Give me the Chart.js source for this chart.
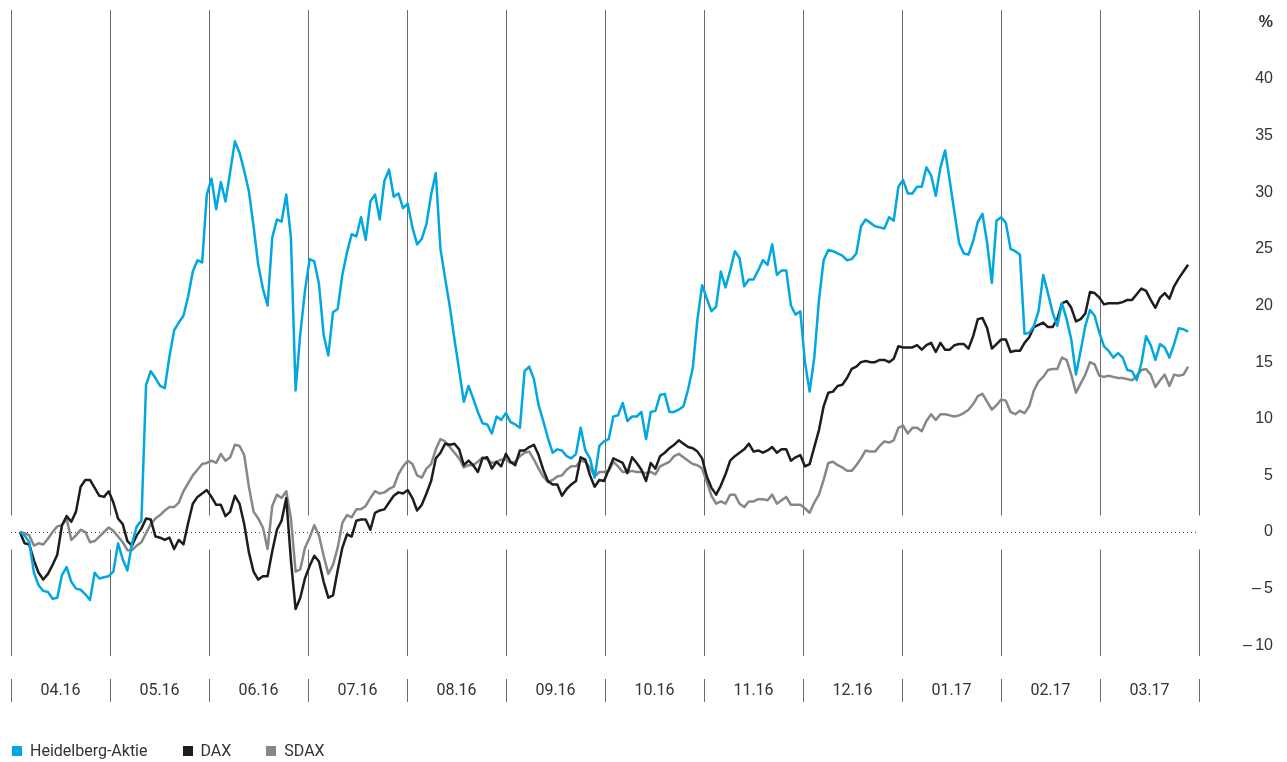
<!DOCTYPE html>
<html>
<head>
<meta charset="utf-8">
<script src="https://cdn.jsdelivr.net/npm/chart.js@4.4.1/dist/chart.umd.min.js"></script>
<style>
  body { margin: 0; background: #fff; }
  #wrap { position: relative; width: 1287px; height: 762px; }
  #legend { position: absolute; left: 12px; top: 741px; display: flex; font: 16px Roboto, sans-serif; color: #333; line-height: 20px; }
  #legend span.item { display: flex; align-items: center; margin-right: 35px; }
  #legend i { display: inline-block; width: 10px; height: 10px; margin-right: 8px; }
</style>
</head>
<body>
<div id="wrap">
  <canvas id="perfChart" width="1287" height="762"></canvas>
  <div id="legend"></div>
</div>
<script>
// month columns, April 2016 to March 2017
const months = ['04.16', '05.16', '06.16', '07.16', '08.16', '09.16', '10.16', '11.16', '12.16', '01.17', '02.17', '03.17'];

// y axis ticks in %, the top one carries the unit
const yTicks = [-10, -5, 0, 5, 10, 15, 20, 25, 30, 35, 40, 45];

const seriesNames = ['Heidelberg-Aktie', 'DAX', 'SDAX'];
const seriesColors = ['#00a7e1', '#1d1d1b', '#878787'];

// change in % since 31.03.2016, one value per trading day
const heidelberg = [
  0, -0.3, -0.9, -3.6, -4.7, -5.2, -5.3, -5.9, -5.8, -3.8,
  -3.1, -4.4, -5.0, -5.1, -5.5, -6.0, -3.6, -4.1, -4.0, -3.9,
  -3.5, -1.0, -2.4, -3.4, -1.0, 0.5, 1.0, 13.0, 14.2, 13.6,
  12.9, 12.7, 15.5, 17.8, 18.5, 19.1, 20.8, 23.0, 24.0, 23.8,
  29.8, 31.2, 28.5, 30.9, 29.2, 31.8, 34.5, 33.5, 31.9, 30.1,
  27.0, 23.6, 21.5, 20.0, 26.0, 27.6, 27.4, 29.8, 26.0, 12.5,
  17.5, 21.3, 24.1, 23.9, 21.9, 17.4, 15.6, 19.4, 19.7, 22.7,
  24.7, 26.3, 26.1, 27.8, 25.8, 29.2, 29.8, 27.6, 31.0, 32.0,
  29.6, 29.9, 28.6, 29.0, 26.9, 25.4, 25.9, 27.2, 29.8, 31.7,
  25.0, 22.4, 19.9, 17.0, 14.3, 11.5, 12.9, 11.8, 10.6, 9.6,
  9.5, 8.7, 10.2, 9.9, 10.5, 9.7, 9.5, 9.2, 14.2, 14.6,
  13.5, 11.2, 9.8, 8.3, 7.0, 7.3, 7.2, 6.7, 6.5, 6.9,
  9.2, 7.2, 6.5, 4.8, 7.6, 8.0, 8.2, 10.2, 10.3, 11.4,
  9.8, 10.2, 10.2, 10.6, 8.2, 10.6, 10.7, 12.1, 12.2, 10.6,
  10.6, 10.8, 11.1, 12.6, 14.5, 18.8, 21.8, 20.6, 19.5, 19.9,
  23.0, 21.6, 23.1, 24.8, 24.2, 21.7, 22.3, 22.3, 23.1, 24.0,
  23.6, 25.4, 22.7, 23.1, 23.1, 20.0, 19.2, 19.5, 15.0, 12.4,
  15.4, 20.5, 24.0, 24.9, 24.8, 24.6, 24.4, 24.0, 24.1, 24.6,
  27.0, 27.6, 27.3, 27.0, 26.9, 26.8, 27.8, 27.5, 30.5, 31.1,
  29.9, 29.9, 30.5, 30.5, 32.2, 31.5, 29.7, 32.2, 33.7, 31.0,
  28.2, 25.5, 24.6, 24.5, 25.7, 27.4, 28.1, 25.5, 22.0, 27.5,
  27.8, 27.3, 25.0, 24.8, 24.5, 17.5, 17.6, 18.2, 19.5, 22.7,
  21.1, 19.4, 18.2, 20.2, 18.8, 17.0, 13.9, 16.0, 18.2, 19.6,
  19.1, 17.6, 16.4, 16.0, 15.4, 15.8, 15.4, 14.3, 14.2, 13.4,
  14.9, 17.3, 16.5, 15.2, 16.6, 16.3, 15.4, 16.6, 18.0, 17.9, 17.7
];

const dax = [
  0, -1.0, -1.1, -2.5, -3.6, -4.2, -3.7, -2.9, -2.0, 0.6,
  1.4, 0.9, 1.8, 4.0, 4.6, 4.6, 3.9, 3.2, 3.1, 3.6,
  2.6, 1.2, 0.7, -0.8, -1.2, -0.3, 0.3, 1.2, 1.1, -0.4,
  -0.5, -0.7, -0.5, -1.5, -0.7, -1.1, 0.8, 2.5, 3.1, 3.4,
  3.7, 3.1, 2.4, 2.4, 1.4, 1.8, 3.2, 2.5, 0.7, -1.8,
  -3.5, -4.2, -3.9, -3.9, -1.7, 0.2, 1.0, 3.0, -2.5, -6.8,
  -5.8, -4.1, -3.0, -2.1, -2.6, -4.4, -5.8, -5.6, -3.4, -1.4,
  -0.2, -0.4, 1.0, 1.1, 1.1, 0.2, 1.7, 1.9, 2.0, 2.6,
  3.2, 3.5, 3.4, 3.7, 3.0, 1.9, 2.4, 3.4, 4.5, 6.5,
  7.0, 7.8, 7.7, 7.8, 7.3, 5.9, 6.3, 5.9, 5.3, 6.5,
  6.6, 5.6, 6.2, 5.8, 6.9, 6.2, 5.9, 7.2, 7.2, 7.5,
  7.7, 6.8, 5.5, 4.5, 4.2, 4.2, 3.2, 3.8, 4.2, 4.5,
  6.6, 6.4, 5.0, 4.0, 4.6, 4.5, 5.5, 6.5, 6.3, 6.1,
  5.2, 6.6, 6.1, 5.5, 4.5, 6.1, 5.6, 6.7, 7.0, 7.4,
  7.7, 8.1, 7.8, 7.5, 7.4, 7.1, 6.5, 4.9, 3.9, 3.3,
  4.1, 5.1, 6.3, 6.7, 7.0, 7.3, 7.8, 7.1, 7.2, 7.0,
  7.2, 7.5, 7.0, 7.3, 7.3, 6.3, 6.6, 6.8, 5.8, 6.0,
  7.5, 9.0, 11.1, 12.3, 12.4, 12.9, 13.0, 13.6, 14.4, 14.6,
  15.0, 15.1, 15.0, 15.0, 15.2, 15.2, 15.0, 15.3, 16.4, 16.3,
  16.3, 16.3, 16.5, 16.1, 16.5, 16.7, 15.9, 16.7, 16.1, 16.1,
  16.5, 16.6, 16.6, 16.2, 17.3, 18.8, 18.9, 18.0, 16.2, 16.6,
  17.0, 17.0, 15.9, 16.0, 16.0, 16.7, 17.2, 18.1, 18.3, 18.5,
  18.1, 18.1, 18.8, 20.2, 20.4, 19.8, 18.6, 18.8, 19.3, 21.2,
  21.1, 20.7, 20.1, 20.2, 20.2, 20.2, 20.3, 20.5, 20.5, 21.0,
  21.5, 21.3, 20.5, 19.8, 20.7, 21.1, 20.6, 21.7, 22.4, 23.0, 23.6
];

const sdax = [
  0, -0.1, -0.3, -1.2, -1.0, -1.1, -0.6, 0, 0.5, 0.6,
  1.2, -0.7, -0.3, 0.2, 0, -0.9, -0.8, -0.4, 0, 0.4,
  0.1, -0.4, -0.9, -1.6, -1.6, -1.2, -0.9, -0.1, 0.7, 1.2,
  1.5, 1.9, 2.2, 2.2, 2.6, 3.6, 4.3, 5.0, 5.5, 6.0,
  6.1, 6.3, 6.1, 6.9, 6.3, 6.6, 7.7, 7.6, 6.8, 4.0,
  1.8, 1.2, 0.4, -1.5, 2.3, 3.3, 3.0, 3.6, 1.2, -3.5,
  -3.3, -1.4, -0.5, 0.6, -0.3, -2.1, -3.7, -2.9, -1.4, 0.8,
  1.5, 1.3, 2.0, 2.0, 2.3, 3.0, 3.6, 3.4, 3.5, 3.8,
  4.0, 5.1, 5.8, 6.3, 6.0, 5.0, 4.8, 5.6, 6.0, 7.3,
  8.2, 8.0, 7.5, 7.0, 6.5, 5.7, 5.9, 5.9, 6.2, 6.6,
  6.4, 6.1, 6.2, 6.4, 6.4, 6.1, 6.2, 6.7, 7.0, 7.1,
  6.4, 5.6, 4.9, 4.4, 4.6, 4.9, 5.0, 5.5, 5.8, 5.8,
  6.3, 6.2, 5.7, 4.9, 5.3, 5.3, 5.4, 6.2, 5.8, 5.3,
  5.3, 5.4, 5.3, 5.3, 5.2, 5.3, 5.1, 5.8, 6.0, 6.2,
  6.7, 6.9, 6.6, 6.3, 6.0, 5.9, 5.6, 4.4, 3.2, 2.5,
  2.7, 2.5, 3.3, 3.3, 2.5, 2.2, 2.7, 2.7, 2.9, 2.9,
  2.8, 3.3, 2.5, 2.8, 3.1, 2.4, 2.4, 2.4, 2.1, 1.7,
  2.6, 3.3, 4.6, 6.1, 6.2, 5.9, 5.7, 5.4, 5.4, 5.9,
  6.5, 7.2, 7.1, 7.1, 7.6, 8.0, 7.9, 8.1, 9.2, 9.4,
  8.7, 9.2, 9.2, 8.9, 9.8, 10.4, 9.9, 10.4, 10.4, 10.3,
  10.2, 10.3, 10.5, 10.8, 11.3, 12.0, 12.2, 11.5, 10.8, 11.2,
  11.7, 11.6, 10.6, 10.4, 10.7, 10.5, 11.1, 12.5, 13.3, 13.7,
  14.3, 14.4, 14.4, 15.4, 15.2, 13.9, 12.3, 13.1, 13.9, 15.0,
  14.8, 13.8, 13.7, 13.8, 13.7, 13.6, 13.6, 13.5, 13.4, 13.8,
  14.3, 14.4, 13.9, 12.8, 13.4, 13.9, 12.9, 13.9, 13.8, 13.9, 14.6
];

// x is measured in months (0 = start of April 2016)
const firstDay = 0.09;
const dayStep = 11.8 / (heidelberg.length - 1);
const toPoints = arr => arr.map((v, i) => ({ x: firstDay + i * dayStep, y: v }));

const monthLines = {
  id: 'monthLines',
  beforeDatasetsDraw(chart) {
    const { ctx, chartArea: a, scales: { x, y } } = chart;
    const zero = Math.round(y.getPixelForValue(0)) + 0.5;
    ctx.save();
    ctx.strokeStyle = '#6a6a6a';
    ctx.lineWidth = 1;
    ctx.beginPath();
    for (let k = 0; k <= months.length; k++) {
      const px = Math.round(x.getPixelForValue(k)) + 0.5;
      ctx.moveTo(px, a.top); ctx.lineTo(px, zero - 17);
      ctx.moveTo(px, zero + 17); ctx.lineTo(px, a.bottom);
      ctx.moveTo(px, a.bottom + 23); ctx.lineTo(px, a.bottom + 46);
    }
    ctx.stroke();
    ctx.setLineDash([1, 3]);
    ctx.strokeStyle = '#444';
    ctx.beginPath();
    ctx.moveTo(a.left, zero); ctx.lineTo(a.right, zero);
    ctx.stroke();
    ctx.restore();
  }
};

const datasets = [heidelberg, dax, sdax].map((arr, i) => ({
  label: seriesNames[i],
  data: toPoints(arr),
  borderColor: seriesColors[i],
  backgroundColor: seriesColors[i],
  borderWidth: 2.5,
  pointRadius: 0,
  tension: 0,
  borderJoinStyle: 'round'
}));

new Chart(document.getElementById('perfChart'), {
  type: 'line',
  data: { datasets },
  options: {
    responsive: false,
    animation: false,
    layout: { padding: { top: 10, left: 11, right: 14, bottom: 36.8 } },
    plugins: { legend: { display: false }, tooltip: { enabled: false } },
    scales: {
      x: {
        type: 'linear',
        min: 0,
        max: months.length,
        grid: { display: false, drawTicks: false },
        border: { display: false },
        afterBuildTicks: s => { s.ticks = months.map((m, i) => ({ value: i + 0.5 })); },
        ticks: {
          autoSkip: false,
          maxRotation: 0,
          padding: 25,
          color: '#333',
          font: { family: 'Roboto', size: 16 },
          callback: (v, i) => months[i]
        }
      },
      y: {
        position: 'right',
        min: -10.95,
        max: 46.1,
        grid: { display: false, drawTicks: false },
        border: { display: false },
        afterBuildTicks: s => { s.ticks = yTicks.map(v => ({ value: v })); },
        afterFit: s => { s.width = 74; s.paddingTop = 0; s.paddingBottom = 0; },
        ticks: {
          crossAlign: 'far',
          padding: 44,
          color: '#333',
          font: ctx => ({ family: 'Liberation Sans', size: 16, weight: ctx.tick && ctx.tick.value === 45 ? 'bold' : 'normal' }),
          callback: v => v === 45 ? '%' : (v < 0 ? '\u2013\u2009' + (-v) : String(v))
        }
      }
    }
  },
  plugins: [monthLines]
});

// legend below the chart
const legend = document.getElementById('legend');
seriesNames.forEach((name, i) => {
  const item = document.createElement('span');
  item.className = 'item';
  item.innerHTML = '<i style="background:' + seriesColors[i] + '"></i>' + name;
  legend.appendChild(item);
});
</script>
</body>
</html>
